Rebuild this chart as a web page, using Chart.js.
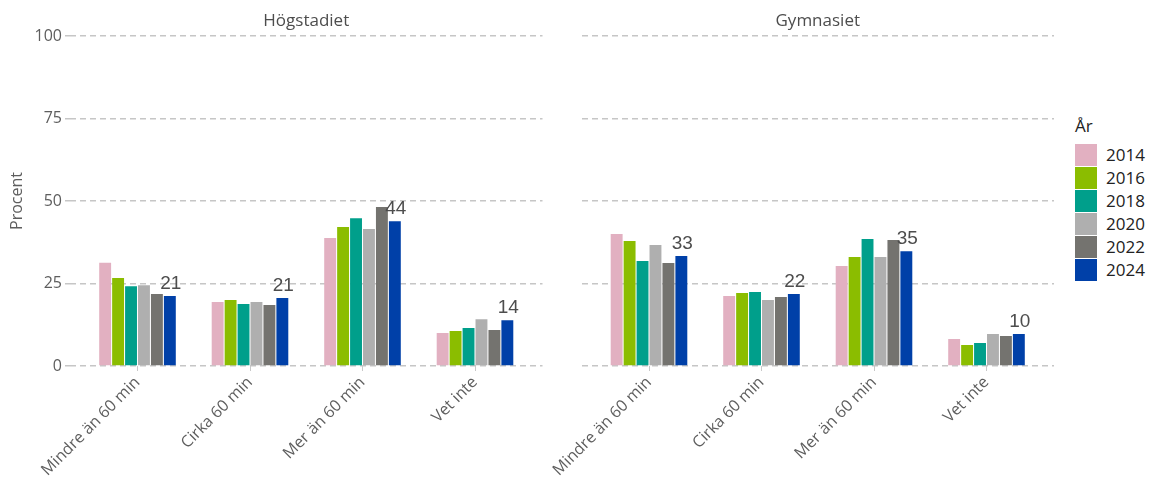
<!DOCTYPE html>
<html>
<head>
<meta charset="utf-8">
<script src="https://cdn.jsdelivr.net/npm/chart.js@4/dist/chart.umd.min.js"></script>
<style>
  body { margin:0; background:#fff; width:1150px; height:483px; position:relative; overflow:hidden; font-family:"Open Sans", sans-serif; }
  canvas { position:absolute; top:0; }
  #legend { position:absolute; left:1075px; top:114px; color:#222; font-size:17px; }
  #legend .title { margin-bottom:6px; }
  #legend .row { display:flex; align-items:center; height:23px; }
  #legend .box { width:22px; height:22px; margin-right:9px; }
</style>
</head>
<body>
<canvas id="c1" style="left:0px" width="556" height="483"></canvas>
<canvas id="c2" style="left:540px" width="520" height="483"></canvas>
<div id="legend"></div>
<script>
const categories = ['Mindre än 60 min', 'Cirka 60 min', 'Mer än 60 min', 'Vet inte'];
const years = ['2014', '2016', '2018', '2020', '2022', '2024'];
const colors = ['#e2b0c1', '#8bbd00', '#009f8b', '#afafaf', '#74736f', '#0040a8'];
const yTicks = [0, 25, 50, 75, 100];

// värden per år, ordning som categories
const hogstadiet = {
  '2014': [31.3, 19.4, 38.8, 10.0],
  '2016': [26.7, 20.0, 42.1, 10.6],
  '2018': [24.2, 18.8, 44.8, 11.5],
  '2020': [24.5, 19.4, 41.5, 14.2],
  '2022': [21.8, 18.5, 48.2, 10.9],
  '2024': [21.2, 20.6, 43.9, 13.9]
};
const gymnasiet = {
  '2014': [40.0, 21.2, 30.3, 8.2],
  '2016': [37.9, 22.1, 33.0, 6.4],
  '2018': [31.8, 22.4, 38.5, 7.0],
  '2020': [36.7, 20.0, 33.0, 9.7],
  '2022': [31.2, 20.9, 38.2, 9.1],
  '2024': [33.3, 21.8, 34.8, 9.7]
};

const grey = '#5e5e5e';
const fontFam = '"Open Sans", sans-serif';

// etiketter ovanför 2024-staplarna + paneltitel
const labelPlugin = {
  id: 'lastLabels',
  afterDatasetsDraw(chart) {
    const ctx = chart.ctx;
    const idx = chart.data.datasets.length - 1;
    const meta = chart.getDatasetMeta(idx);
    ctx.save();
    ctx.font = '19px "Liberation Sans", Arial, sans-serif';
    ctx.fillStyle = '#4d4d4d';
    ctx.textAlign = 'center';
    ctx.textBaseline = 'bottom';
    meta.data.forEach((bar, i) => {
      const v = chart.data.datasets[idx].data[i].y;
      ctx.fillText(Math.round(v), bar.x + 1, bar.y - 3);
    });
    // paneltitel centrerad över ritytan
    const a = chart.chartArea;
    ctx.font = '17px ' + fontFam;
    ctx.textBaseline = 'middle';
    ctx.fillText(chart.options.panelTitle, (a.left + a.right) / 2, 21);
    ctx.restore();
  }
};

function makeChart(id, title, values, showY, yWidth, padRight) {
  const datasets = years.map((y, k) => ({
    label: y,
    backgroundColor: colors[k],
    data: values[y].map((v, i) => ({ x: i + 1, y: v })),
    categoryPercentage: 0.69,
    barPercentage: 0.92
  }));
  new Chart(document.getElementById(id), {
    type: 'bar',
    data: { datasets: datasets },
    plugins: [labelPlugin],
    options: {
      panelTitle: title,
      responsive: false,
      animation: false,
      layout: { padding: { right: padRight, top: 36, bottom: 0, left: 0 } },
      plugins: {
        legend: { display: false },
        tooltip: { enabled: false }
      },
      scales: {
        x: {
          type: 'linear',
          min: 0.4,
          max: 4.6,
          offset: false,
          afterBuildTicks: s => { s.ticks = categories.map((c, i) => ({ value: i + 1 })); },
          afterFit: s => { s.height = 117; },
          ticks: {
            autoSkip: false,
            maxRotation: 45,
            minRotation: 45,
            color: grey,
            font: { family: fontFam, size: 16 },
            padding: 2,
            callback: v => categories[v - 1]
          },
          grid: { offset: false, drawOnChartArea: false, drawTicks: true, tickLength: 5, color: '#c8c8c8' },
          border: { display: false }
        },
        y: {
          min: 0,
          max: 100,
          afterBuildTicks: s => { s.ticks = yTicks.map(v => ({ value: v })); },
          afterFit: s => { s.width = yWidth; },
          ticks: {
            display: showY,
            color: grey,
            font: { family: fontFam, size: 16 },
            padding: 3
          },
          title: {
            display: showY,
            text: 'Procent',
            color: grey,
            font: { family: fontFam, size: 16 },
            padding: { top: 8, bottom: 0 }
          },
          grid: { color: '#c6c6c6', lineWidth: 1.5, drawTicks: showY, tickLength: 5, tickColor: '#c6c6c6' },
          border: { display: false, dash: [6, 4] }
        }
      }
    }
  });
}

makeChart('c1', 'Högstadiet', hogstadiet, true, 70, 13.5);
makeChart('c2', 'Gymnasiet', gymnasiet, false, 41.5, 6);

// förklaring
const legend = document.getElementById('legend');
legend.innerHTML = '<div class="title">År</div>' + years.map((y, k) =>
  '<div class="row"><div class="box" style="background:' + colors[k] + '"></div>' + y + '</div>').join('');
</script>
</body>
</html>
